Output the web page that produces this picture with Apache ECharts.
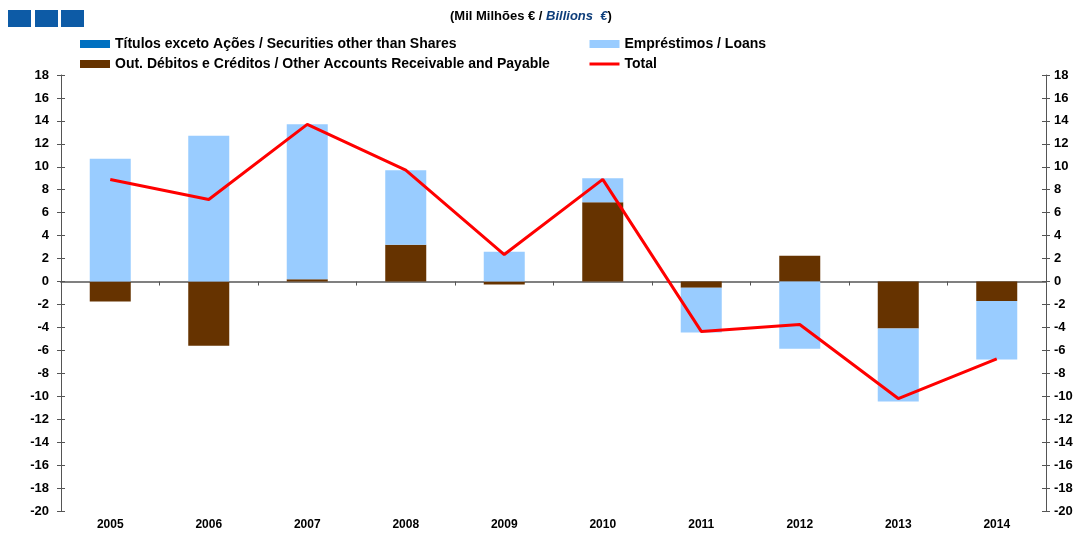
<!DOCTYPE html>
<html lang="pt">
<head>
    <meta charset="UTF-8">
    <title>Mil Milhões €</title>
    <script src="https://cdn.jsdelivr.net/npm/echarts@6/dist/echarts.min.js"></script>
    <style>
        body { margin: 0; padding: 0; background: #fff; }
        #chart { width: 1080px; height: 533px; }
    </style>
</head>
<body>
    <div id="chart"></div>
    <script>
        // dados (Mil Milhões €)
        var years = ['2005', '2006', '2007', '2008', '2009', '2010', '2011', '2012', '2013', '2014'];
        var titulos = [0, 0, 0, 0, 0, 0, 0, 0, 0, 0];
        var outDebitos = [-1.75, -5.6, 0.2, 3.2, -0.25, 6.9, -0.55, 2.25, -4.1, -1.7];
        var emprestimos = [10.7, 12.7, 13.5, 6.5, 2.6, 2.1, -3.9, -5.85, -6.35, -5.1];
        var total = [8.9, 7.15, 13.7, 9.7, 2.35, 8.9, -4.35, -3.75, -10.2, -6.75];

        var FONT = '"Liberation Sans", Arial, sans-serif';

        var myChart = echarts.init(document.getElementById('chart'));

        var yAxisBase = {
            type: 'value',
            min: -20,
            max: 18,
            interval: 2,
            splitLine: { show: false },
            axisLine: { show: true, lineStyle: { color: '#555', width: 1 } },
            axisTick: { show: true, length: 4, lineStyle: { color: '#555' } },
            axisLabel: {
                color: '#000',
                fontFamily: FONT,
                fontWeight: 'bold',
                fontSize: 13
            }
        };

        // eixos só com a parte interior dos traços
        var yAxisInner = {
            type: 'value',
            min: -20,
            max: 18,
            interval: 2,
            splitLine: { show: false },
            axisLine: { show: false },
            axisTick: { show: true, inside: true, length: 4, lineStyle: { color: '#555' } },
            axisLabel: { show: false }
        };

        var legendText = { fontSize: 14, fontWeight: 'bold', color: '#000', fontFamily: FONT };

        var option = {
            animation: false,
            textStyle: { fontFamily: FONT },
            graphic: [
                { type: 'rect', left: 8, top: 10, shape: { width: 23, height: 17 }, style: { fill: '#0D5BA6' } },
                { type: 'rect', left: 35, top: 10, shape: { width: 23, height: 17 }, style: { fill: '#0D5BA6' } },
                { type: 'rect', left: 61, top: 10, shape: { width: 23, height: 17 }, style: { fill: '#0D5BA6' } }
            ],
            title: {
                text: '{a|(Mil Milhões € / }{b|Billions  €}{a|)}',
                left: 445,
                top: 5,
                textStyle: {
                    rich: {
                        a: { fontFamily: FONT, fontWeight: 'bold', fontSize: 13, color: '#000' },
                        b: { fontFamily: FONT, fontWeight: 'bold', fontStyle: 'italic', fontSize: 13, color: '#0D3D7A' }
                    }
                }
            },
            legend: [
                {
                    left: 75,
                    top: 32,
                    orient: 'vertical',
                    itemGap: 6,
                    itemWidth: 30,
                    itemHeight: 8,
                    icon: 'rect',
                    data: ['Títulos exceto Ações / Securities other than Shares', 'Out. Débitos e Créditos / Other Accounts Receivable and Payable'],
                    textStyle: legendText
                },
                {
                    left: 583,
                    top: 32,
                    orient: 'vertical',
                    itemGap: 6,
                    itemWidth: 30,
                    itemHeight: 8,
                    data: [
                        { name: 'Empréstimos / Loans', icon: 'rect' },
                        { name: 'Total', itemStyle: { opacity: 0 }, lineStyle: { width: 3 } }
                    ],
                    textStyle: legendText
                }
            ],
            grid: {
                left: 61,
                right: 34,
                top: 75,
                bottom: 22
            },
            xAxis: [
                {
                    type: 'category',
                    data: years,
                    axisLine: { onZero: true, lineStyle: { color: '#808080', width: 2 } },
                    axisTick: { show: true, length: 4, lineStyle: { color: '#555' } },
                    axisLabel: { show: false }
                },
                {
                    type: 'category',
                    data: years,
                    position: 'bottom',
                    axisLine: { show: false },
                    axisTick: { show: false },
                    axisLabel: {
                        color: '#000',
                        fontFamily: FONT,
                        fontWeight: 'bold',
                        fontSize: 12,
                        margin: 8
                    }
                }
            ],
            yAxis: [
                Object.assign({}, yAxisBase, { position: 'left', axisLabel: Object.assign({}, yAxisBase.axisLabel, { margin: 12 }) }),
                Object.assign({}, yAxisBase, { position: 'right' }),
                Object.assign({}, yAxisInner, { position: 'left' }),
                Object.assign({}, yAxisInner, { position: 'right' })
            ],
            series: [
                {
                    name: 'Títulos exceto Ações / Securities other than Shares',
                    type: 'bar',
                    stack: 'a',
                    barWidth: 41,
                    data: titulos,
                    itemStyle: { color: '#0070C0' }
                },
                {
                    name: 'Out. Débitos e Créditos / Other Accounts Receivable and Payable',
                    type: 'bar',
                    stack: 'a',
                    barWidth: 41,
                    data: outDebitos,
                    itemStyle: { color: '#663300' }
                },
                {
                    name: 'Empréstimos / Loans',
                    type: 'bar',
                    stack: 'a',
                    barWidth: 41,
                    data: emprestimos,
                    itemStyle: { color: '#99CCFF' }
                },
                {
                    name: 'Total',
                    type: 'line',
                    data: total,
                    symbol: 'none',
                    z: 5,
                    lineStyle: { color: '#FF0000', width: 3 },
                    itemStyle: { color: '#FF0000' }
                }
            ]
        };

        myChart.setOption(option);
    </script>
</body>
</html>
